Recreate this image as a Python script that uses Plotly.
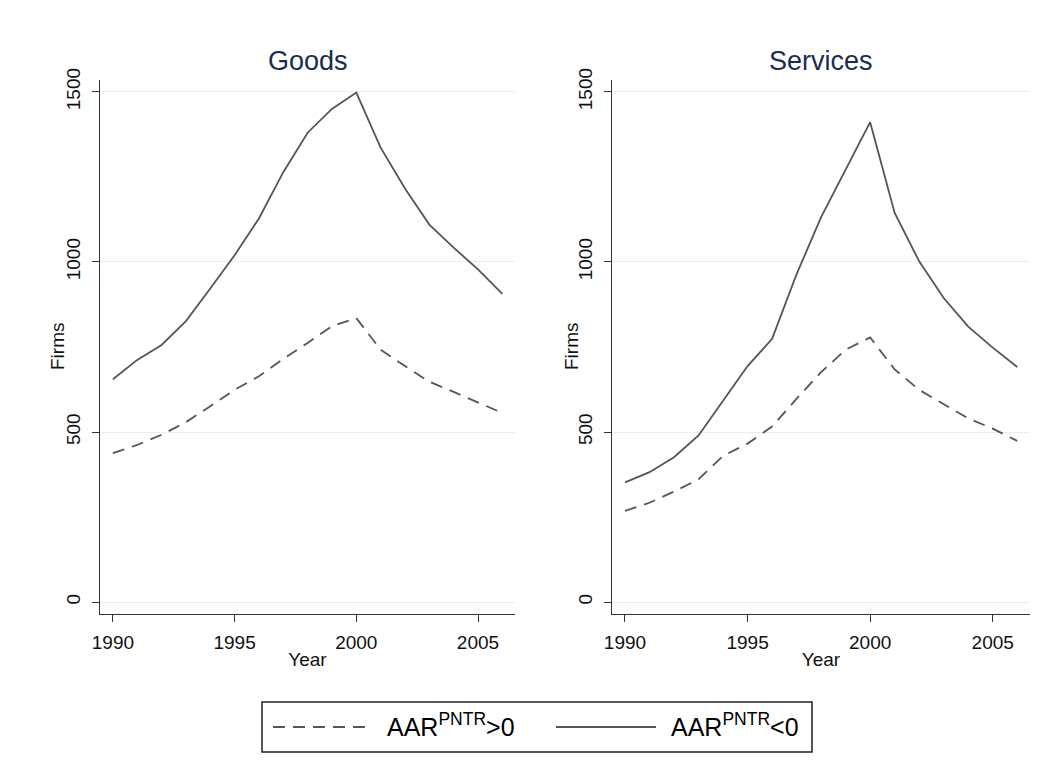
import plotly.graph_objects as go

years = list(range(1990, 2007))

goods_pos = [438, 462, 492, 529, 576, 624, 664, 715, 762, 811, 835, 742, 694, 648, 618, 586, 556]
goods_neg = [655, 712, 756, 826, 922, 1020, 1128, 1264, 1380, 1450, 1498, 1336, 1216, 1110, 1042, 978, 906]
serv_pos = [268, 292, 325, 361, 430, 466, 516, 598, 676, 742, 778, 684, 624, 582, 540, 510, 474]
serv_neg = [352, 382, 426, 490, 592, 694, 774, 964, 1132, 1272, 1411, 1144, 1002, 894, 810, 748, 691]

panel_titles = ["Goods", "Services"]
legend_labels = ["AAR<sup>PNTR</sup>>0", "AAR<sup>PNTR</sup><0"]
x_ticks = [1990, 1995, 2000, 2005]
y_ticks = [0, 500, 1000, 1500]

W, H = 1061, 774
LINE = "#555555"
FONT = "Liberation Sans, Arial, sans-serif"

fig = go.Figure()
dash = "12px,8px"
for i, (pos, neg) in enumerate([(goods_pos, goods_neg), (serv_pos, serv_neg)]):
    xa = "x" if i == 0 else "x2"
    ya = "y" if i == 0 else "y2"
    fig.add_trace(go.Scatter(x=years, y=pos, mode="lines", xaxis=xa, yaxis=ya,
                             line=dict(color=LINE, width=1.8, dash=dash),
                             name=legend_labels[0], showlegend=False))
    fig.add_trace(go.Scatter(x=years, y=neg, mode="lines", xaxis=xa, yaxis=ya,
                             line=dict(color=LINE, width=1.8),
                             name=legend_labels[1], showlegend=False))

def px_x(p):
    return p / W

def px_y(p):
    return (H - p) / H

ydom = [px_y(614), px_y(80)]
xdoms = [[px_x(100), px_x(515)], [px_x(612), px_x(1030)]]

axis_common = dict(showline=True, linecolor="#333333", linewidth=1, ticks="outside",
                   ticklen=7, tickcolor="#333333", tickfont=dict(size=19, color="#111111", family=FONT),
                   zeroline=False, automargin=False)

layout = dict(width=W, height=H, margin=dict(l=0, r=0, t=0, b=0, autoexpand=False),
              paper_bgcolor="white", plot_bgcolor="white", showlegend=False,
              font=dict(family=FONT, color="#111111"))
for i in range(2):
    sx = "" if i == 0 else "2"
    layout["xaxis" + sx] = dict(domain=xdoms[i], range=[1989.47, 2006.52], anchor="y" + sx,
                                tickvals=x_ticks, showgrid=False, ticklabelstandoff=4,
                                title=dict(text="Year", font=dict(size=19), standoff=0),
                                **axis_common)
    layout["yaxis" + sx] = dict(domain=ydom, range=[-35, 1535], anchor="x" + sx,
                                tickvals=y_ticks, tickangle=-90, showgrid=True,
                                gridcolor="#e6eef0", gridwidth=1, ticklabelstandoff=4,
                                **axis_common)
fig.update_layout(**layout)

# y-axis titles
for xp in [57, 571]:
    fig.add_annotation(text="Firms", xref="paper", yref="paper", x=px_x(xp), y=px_y(347),
                       showarrow=False, textangle=-90, xanchor="center", yanchor="middle",
                       font=dict(size=19, color="#111111", family=FONT))

# panel titles
for i, t in enumerate(panel_titles):
    fig.add_annotation(text=t, xref="paper", yref="paper",
                       x=(xdoms[i][0] + xdoms[i][1]) / 2, y=px_y(61),
                       showarrow=False, xanchor="center", yanchor="middle",
                       font=dict(size=27, color="#1c2b52", family=FONT))

# legend box
fig.add_shape(type="rect", xref="paper", yref="paper",
              x0=px_x(262), x1=px_x(812), y0=px_y(752), y1=px_y(702),
              line=dict(color="#222222", width=1.5), fillcolor="white")
ly = px_y(727)
fig.add_shape(type="line", xref="paper", yref="paper", x0=px_x(273), x1=px_x(372), y0=ly, y1=ly,
              line=dict(color=LINE, width=1.8, dash=dash))
fig.add_shape(type="line", xref="paper", yref="paper", x0=px_x(556), x1=px_x(656), y0=ly, y1=ly,
              line=dict(color=LINE, width=1.8))
for xx, lab in [(385, legend_labels[0]), (669, legend_labels[1])]:
    fig.add_annotation(text=lab, xref="paper", yref="paper", x=px_x(xx), y=px_y(725),
                       showarrow=False, xanchor="left", yanchor="middle",
                       font=dict(size=25, color="#000000", family=FONT))

fig.write_html("out.html")
